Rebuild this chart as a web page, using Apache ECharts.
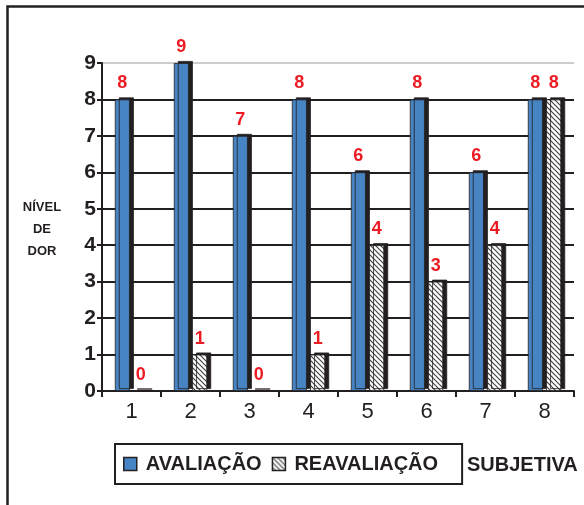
<!DOCTYPE html>
<html>
<head>
<meta charset="utf-8">
<script src="https://cdn.jsdelivr.net/npm/echarts@6/dist/echarts.min.js"></script>
<style>html,body{margin:0;padding:0;background:#fff}#c{width:584px;height:505px}</style>
</head>
<body>
<div id="c"></div>
<script>
var categories = ['1', '2', '3', '4', '5', '6', '7', '8'];
var avaliacao = [8, 9, 7, 8, 6, 8, 6, 8];
var reavaliacao = [0, 1, 0, 1, 4, 3, 4, 8];
var seriesNames = ['AVALIAÇÃO', 'REAVALIAÇÃO'];
var yAxisTitle = 'NÍVEL\nDE\nDOR';
var sideText = 'SUBJETIVA';

var dark = '#231f20';
var font = '"Liberation Sans", Arial, sans-serif';

// hatch pattern
var pc = document.createElement('canvas');
pc.width = 5; pc.height = 5;
var ctx = pc.getContext('2d');
ctx.fillStyle = '#ffffff';
ctx.fillRect(0, 0, 5, 5);
ctx.strokeStyle = '#444444';
ctx.lineWidth = 1.2;
ctx.beginPath();
ctx.moveTo(-1, -1); ctx.lineTo(6, 6);
ctx.moveTo(-1, 4); ctx.lineTo(1, 6);
ctx.moveTo(4, -1); ctx.lineTo(6, 1);
ctx.stroke();

var chart = echarts.init(document.getElementById('c'), null, {renderer: 'canvas'});

var splitColors = ['#cccccc'];
for (var i = 1; i < 9; i++) splitColors.push(dark);
splitColors.push('#cccccc');

var labelStyle = {
  show: true, position: 'top', distance: 7,
  color: '#ed1c24', fontSize: 18, fontWeight: 'bold', fontFamily: font
};

chart.setOption({
  animation: false,
  backgroundColor: '#fff',
  grid: {left: 102, right: 10, top: 63, bottom: 114, containLabel: false},
  legend: {
    left: 115, top: 444,
    padding: [10, 24, 10, 8],
    borderColor: dark, borderWidth: 2,
    itemWidth: 13, itemHeight: 13, itemGap: 10,
    icon: 'rect',
    textStyle: {fontSize: 20, fontWeight: 'bold', fontFamily: font, color: dark, padding: [0, 0, 0, 4]},
    itemStyle: {borderColor: dark, borderWidth: 1.5, shadowBlur: 0, shadowOffsetX: 0, shadowOffsetY: 0, shadowColor: 'rgba(0,0,0,0)'},
    data: seriesNames
  },
  xAxis: {
    type: 'category', data: categories,
    axisLine: {lineStyle: {color: dark, width: 2}},
    axisTick: {show: true, length: 6, lineStyle: {color: dark, width: 2}},
    axisLabel: {fontSize: 22, color: dark, fontFamily: font, margin: 10}
  },
  yAxis: {
    type: 'value', min: 0, max: 9, interval: 1,
    axisLine: {show: true, lineStyle: {color: dark, width: 2}},
    axisTick: {show: true, length: 5, lineStyle: {color: dark, width: 2}},
    axisLabel: {fontSize: 21, fontWeight: 'bold', color: dark, fontFamily: font, margin: 6},
    splitLine: {show: true, lineStyle: {color: splitColors, width: 2}}
  },
  series: [
    {
      name: seriesNames[0], type: 'bar', data: avaliacao,
      barWidth: 15, barGap: '22%',
      itemStyle: {color: '#4784c4', borderColor: dark, borderWidth: 0.8,
        shadowColor: dark, shadowBlur: 0, shadowOffsetX: 4, shadowOffsetY: -2},
      label: labelStyle
    },
    {
      name: seriesNames[1], type: 'bar', data: reavaliacao,
      barWidth: 15,
      itemStyle: {color: {image: pc, repeat: 'repeat'}, borderColor: dark, borderWidth: 0.8,
        shadowColor: dark, shadowBlur: 0, shadowOffsetX: 4, shadowOffsetY: -2},
      label: labelStyle
    }
  ],
  graphic: [
    {type: 'rect', left: 5, top: 4, shape: {x: 0, y: 0, width: 620, height: 540},
      style: {fill: 'none', stroke: dark, lineWidth: 2.5}, silent: true},
    {type: 'text', x: 42, y: 196,
      style: {text: yAxisTitle, align: 'center', fontSize: 13, fontWeight: 'bold', fontFamily: font,
        fill: dark, lineHeight: 22}},
    {type: 'text', left: 467, top: 455,
      style: {text: sideText, fontSize: 20, fontWeight: 'bold', fontFamily: font, fill: dark}}
  ]
});
</script>
</body>
</html>
